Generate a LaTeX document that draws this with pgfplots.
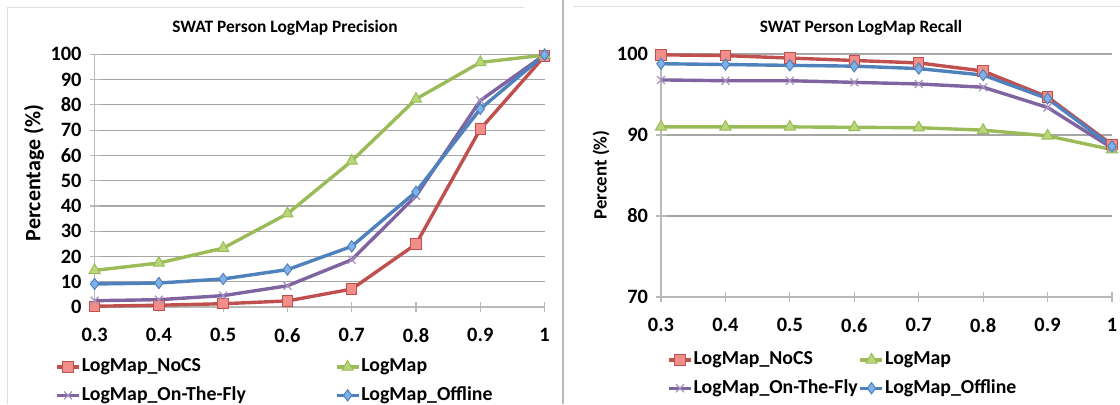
\documentclass[border=0pt]{standalone}
\usepackage{pgfplots}
\pgfplotsset{compat=1.18}
\usepackage{fontspec}
\setmainfont{Carlito}
\definecolor{cRed}{HTML}{C0504D}
\definecolor{cRedF}{HTML}{F28E8A}
\definecolor{cGreen}{HTML}{9BBB59}
\definecolor{cGreenF}{HTML}{B8D67A}
\definecolor{cPurple}{HTML}{8064A2}
\definecolor{cBlue}{HTML}{4F81BD}
\definecolor{cBlueF}{HTML}{7FB2E8}
\pgfplotsset{
  mystyle/.style={
    scale only axis,
    clip=false,
    xmin=0.3, xmax=1,
    xtick={0.3,0.4,0.5,0.6,0.7,0.8,0.9,1},
    xticklabels={0.3,0.4,0.5,0.6,0.7,0.8,0.9,1},
    axis x line*=bottom, axis y line*=left,
    axis line style={draw=gray!55, line width=0.6pt},
    every tick/.style={draw=gray!55, line width=0.6pt},
    tick align=center,
    major tick length=5pt,
    ymajorgrids,
    major grid style={draw=gray!70, line width=0.6pt},
    /pgf/number format/assume math mode=true,
    ticklabel style={font=\fontsize{10.2}{11}\selectfont\bfseries},
    xticklabel style={yshift=-4.5pt},
    yticklabel style={xshift=-0.5pt},
    legend columns=2,
    legend cell align=left,
    legend style={draw=none, fill=none, font=\fontsize{9.9}{11}\selectfont\bfseries,
      inner sep=0pt, row sep=5pt,
      nodes={inner sep=0.5pt}},
    legend image code/.code={\draw[mark repeat=2,mark phase=2,#1] plot coordinates {(0pt,0pt) (5.5pt,0pt) (11pt,0pt)};},
  },
  sNoCS/.style={cRed, line width=1.7pt, mark=square*, mark size=2.6pt, mark options={fill=cRedF, draw=cRed, line width=0.5pt, solid}},
  sLog/.style={cGreen, line width=1.7pt, mark=triangle*, mark size=3.2pt, mark options={fill=cGreenF, draw=cGreen, line width=0.5pt, solid}},
  sOTF/.style={cPurple, line width=1.7pt, mark=x, mark size=2.8pt, mark options={draw=cPurple!70, line width=0.6pt, solid}},
  sOff/.style={cBlue, line width=1.7pt, mark=diamond*, mark size=2.8pt, mark options={fill=cBlueF, draw=cBlue, line width=0.5pt, solid}},
}
\begin{document}
\begin{tikzpicture}
\useasboundingbox (0,0) rectangle (560pt,202pt);
% panel decorations
\draw[gray!25, line width=0.5pt] (3.5pt,0pt) -- (3.5pt,198.5pt) -- (262pt,198.5pt);
\draw[gray!55, line width=0.8pt] (281.5pt,0pt) -- (281.5pt,202pt);
\draw[gray!25, line width=0.5pt] (286.5pt,199pt) -- (560pt,199pt);
% titles and y labels
\node[font=\fontsize{8.7}{10}\selectfont\bfseries] at (142.5pt,188pt) {SWAT Person LogMap Precision};
\node[font=\fontsize{8.7}{10}\selectfont\bfseries] at (430.5pt,188pt) {SWAT Person LogMap Recall};
\node[rotate=90, font=\fontsize{11}{12}\selectfont\bfseries] at (17pt,115.5pt) {Percentage (\%)};
\node[rotate=90, font=\fontsize{9.4}{11}\selectfont\bfseries] at (300.5pt,114.5pt) {Percent (\%)};

\begin{axis}[mystyle,
  at={(47.3pt,48.5pt)}, anchor=south west,
  width=225pt, height=126.35pt,
  ymin=0, ymax=100, ytick={0,10,...,100},
  legend style={at={(-0.088,-0.20)}, anchor=north west,
    /tikz/every even column/.append style={column sep=44pt}},
]
\addplot[sNoCS] coordinates {(0.3,0.3) (0.4,0.7) (0.5,1.3) (0.6,2.4) (0.7,7.1) (0.8,24.9) (0.9,70.4) (1,99.3)};
\addlegendentry{LogMap\_NoCS}
\addplot[sLog] coordinates {(0.3,14.5) (0.4,17.4) (0.5,23.3) (0.6,36.9) (0.7,57.8) (0.8,82.3) (0.9,96.8) (1,99.7)};
\addlegendentry{LogMap}
\addplot[sOTF] coordinates {(0.3,2.5) (0.4,2.9) (0.5,4.5) (0.6,8.4) (0.7,18.7) (0.8,44.0) (0.9,81.7) (1,99.8)};
\addlegendentry{LogMap\_On-The-Fly}
\addplot[sOff] coordinates {(0.3,9.1) (0.4,9.5) (0.5,11.1) (0.6,14.8) (0.7,24.0) (0.8,45.6) (0.9,78.4) (1,99.8)};
\addlegendentry{LogMap\_Offline}
\end{axis}

\begin{axis}[mystyle,
  at={(330.5pt,53.5pt)}, anchor=south west,
  width=225.5pt, height=121.5pt,
  ymin=70, ymax=100, ytick={70,80,90,100},
  legend style={at={(0.013,-0.22)}, anchor=north west,
    /tikz/every even column/.append style={column sep=0pt}},
]
\addplot[sNoCS] coordinates {(0.3,99.9) (0.4,99.8) (0.5,99.5) (0.6,99.2) (0.7,98.9) (0.8,97.9) (0.9,94.7) (1,88.8)};
\addlegendentry{LogMap\_NoCS}
\addplot[sLog] coordinates {(0.3,91.0) (0.4,91.0) (0.5,91.0) (0.6,90.95) (0.7,90.9) (0.8,90.6) (0.9,89.9) (1,88.2)};
\addlegendentry{LogMap}
\addplot[sOTF] coordinates {(0.3,96.8) (0.4,96.7) (0.5,96.7) (0.6,96.5) (0.7,96.3) (0.8,95.9) (0.9,93.4) (1,88.4)};
\addlegendentry{LogMap\_On-The-Fly}
\addplot[sOff] coordinates {(0.3,98.8) (0.4,98.7) (0.5,98.6) (0.6,98.5) (0.7,98.2) (0.8,97.4) (0.9,94.5) (1,88.6)};
\addlegendentry{LogMap\_Offline}
\end{axis}
\end{tikzpicture}
\end{document}
